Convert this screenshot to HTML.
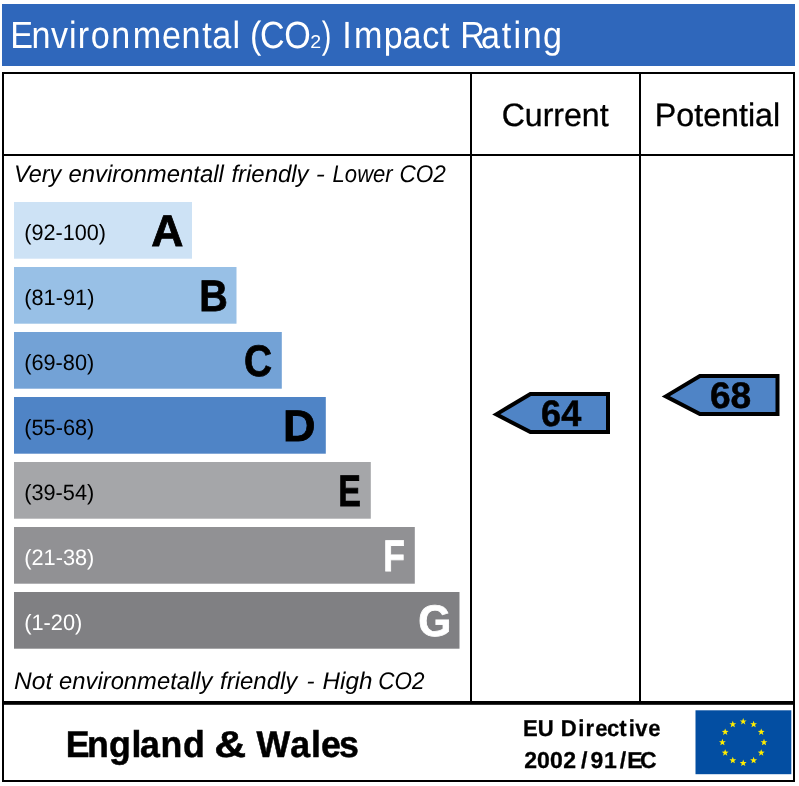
<!DOCTYPE html>
<html lang="en">
<head>
<meta charset="utf-8">
<title>Environmental (CO2) Impact Rating</title>
<style>
html,body{margin:0;padding:0;background:#fff;}
body{width:799px;height:786px;overflow:hidden;}
svg{display:block;}
text{font-family:"Liberation Sans",sans-serif;fill:#000;text-rendering:geometricPrecision;}
.t{fill:#fff;font-size:37.9px;}
.it{font-style:italic;font-size:24px;}
.rg{font-size:22.2px;}
.lt{font-weight:bold;font-size:44.2px;stroke:#000;stroke-width:.8px;}
.hd{font-size:32.4px;stroke:#000;stroke-width:.35px;}
.num{font-weight:bold;font-size:36.8px;stroke:#000;stroke-width:.5px;}
.b36{font-weight:bold;font-size:37.2px;stroke:#000;stroke-width:.5px;}
.b22{font-weight:bold;font-size:23px;stroke:#000;stroke-width:.3px;}
</style>
</head>
<body>
<svg width="799" height="786" viewBox="0 0 799 786">
<rect x="0" y="0" width="799" height="786" fill="#fff"/>
<rect x="2" y="4" width="793" height="62" fill="#2f67bb"/>
<g fill="#000" shape-rendering="crispEdges">
<rect x="2" y="72" width="793" height="2"/>
<rect x="2" y="72" width="2" height="710"/>
<rect x="793" y="72" width="2" height="710"/>
<rect x="2" y="780" width="793" height="2"/>
<rect x="2" y="154" width="793" height="2"/>
<rect x="470" y="72" width="2" height="631"/>
<rect x="639" y="72" width="2" height="631"/>
</g>
<rect x="2" y="701" width="793" height="3.8" fill="#000"/>
<rect x="14" y="202" width="178.00" height="56.7" fill="#cde2f5"/>
<rect x="14" y="267" width="222.50" height="56.7" fill="#98c0e6"/>
<rect x="14" y="332" width="267.80" height="56.7" fill="#73a2d6"/>
<rect x="14" y="397" width="311.80" height="56.7" fill="#4f84c6"/>
<rect x="14" y="462" width="356.80" height="56.7" fill="#a5a6a9"/>
<rect x="14" y="527" width="400.80" height="56.7" fill="#919194"/>
<rect x="14" y="592" width="445.50" height="56.7" fill="#808083"/>
<polygon points="496.3,414.4 530.4,394 608,394 608,432 530.4,432" fill="#4f84c6" stroke="#000" stroke-width="4" stroke-linejoin="miter"/>
<polygon transform="translate(169.5,-18)" points="496.3,414.4 530.4,394 608,394 608,432 530.4,432" fill="#4f84c6" stroke="#000" stroke-width="4" stroke-linejoin="miter"/>
<rect x="695.5" y="710.3" width="95.8" height="63.9" fill="#034ea2"/>
<g fill="#ffed00">
<polygon points="743.20,718.00 744.08,720.39 746.62,720.49 744.63,722.06 745.32,724.51 743.20,723.10 741.08,724.51 741.77,722.06 739.78,720.49 742.32,720.39"/>
<polygon points="753.60,720.79 754.48,723.17 757.02,723.27 755.03,724.85 755.72,727.30 753.60,725.89 751.48,727.30 752.17,724.85 750.18,723.27 752.72,723.17"/>
<polygon points="761.21,728.40 762.10,730.79 764.64,730.89 762.64,732.46 763.33,734.91 761.21,733.50 759.10,734.91 759.79,732.46 757.79,730.89 760.33,730.79"/>
<polygon points="764.00,738.80 764.88,741.19 767.42,741.29 765.43,742.86 766.12,745.31 764.00,743.90 761.88,745.31 762.57,742.86 760.58,741.29 763.12,741.19"/>
<polygon points="761.21,749.20 762.10,751.59 764.64,751.69 762.64,753.26 763.33,755.71 761.21,754.30 759.10,755.71 759.79,753.26 757.79,751.69 760.33,751.59"/>
<polygon points="753.60,756.81 754.48,759.20 757.02,759.30 755.03,760.88 755.72,763.33 753.60,761.91 751.48,763.33 752.17,760.88 750.18,759.30 752.72,759.20"/>
<polygon points="743.20,759.60 744.08,761.99 746.62,762.09 744.63,763.66 745.32,766.11 743.20,764.70 741.08,766.11 741.77,763.66 739.78,762.09 742.32,761.99"/>
<polygon points="732.80,756.81 733.68,759.20 736.22,759.30 734.23,760.88 734.92,763.33 732.80,761.91 730.68,763.33 731.37,760.88 729.38,759.30 731.92,759.20"/>
<polygon points="725.19,749.20 726.07,751.59 728.61,751.69 726.61,753.26 727.30,755.71 725.19,754.30 723.07,755.71 723.76,753.26 721.76,751.69 724.30,751.59"/>
<polygon points="722.40,738.80 723.28,741.19 725.82,741.29 723.83,742.86 724.52,745.31 722.40,743.90 720.28,745.31 720.97,742.86 718.98,741.29 721.52,741.19"/>
<polygon points="725.19,728.40 726.07,730.79 728.61,730.89 726.61,732.46 727.30,734.91 725.19,733.50 723.07,734.91 723.76,732.46 721.76,730.89 724.30,730.79"/>
<polygon points="732.80,720.79 733.68,723.17 736.22,723.27 734.23,724.85 734.92,727.30 732.80,725.89 730.68,727.30 731.37,724.85 729.38,723.27 731.92,723.17"/>
</g>
<text y="47.70" transform="scale(0.9,1)"><tspan class="t" x="11.34 34.99 56.64 76.58 86.52 100.79 123.54 147.43 180.05 201.77 224.70 235.82 258.45">Environmental</tspan> <tspan class="t" x="277.90 289.02 315.77">(CO</tspan><tspan class="t" x="344.69" textLength="12.11" lengthAdjust="spacingAndGlyphs" style="font-size:18.5px;">2</tspan><tspan class="t" x="357.62" textLength="10.72" lengthAdjust="spacingAndGlyphs">)</tspan> <tspan class="t" x="380.29 393.26 426.37 447.10 469.05 489.03">Impact</tspan> <tspan class="t" x="511.25 534.43 557.53 570.58 580.77 603.36">Rating</tspan></text>
<text y="125.60"><tspan class="hd" x="501.72" textLength="106.85" lengthAdjust="spacingAndGlyphs">Current</tspan></text>
<text y="125.60"><tspan class="hd" x="654.82" textLength="125.28" lengthAdjust="spacingAndGlyphs">Potential</tspan></text>
<text y="181.80"><tspan class="it" x="14.01" textLength="47.23" lengthAdjust="spacingAndGlyphs">Very</tspan> <tspan class="it" x="68.50" textLength="155.30" lengthAdjust="spacingAndGlyphs">environmentall</tspan> <tspan class="it" x="231.40" textLength="77.20" lengthAdjust="spacingAndGlyphs">friendly</tspan> <tspan class="it" x="315.80" textLength="9.12" lengthAdjust="spacingAndGlyphs">-</tspan> <tspan class="it" x="332.60" textLength="60.10" lengthAdjust="spacingAndGlyphs">Lower</tspan> <tspan class="it" x="399.48" textLength="46.36" lengthAdjust="spacingAndGlyphs">CO2</tspan></text>
<text y="688.60"><tspan class="it" x="14.10" textLength="38.20" lengthAdjust="spacingAndGlyphs">Not</tspan> <tspan class="it" x="59.10" textLength="153.33" lengthAdjust="spacingAndGlyphs">environmetally</tspan> <tspan class="it" x="220.10" textLength="77.14" lengthAdjust="spacingAndGlyphs">friendly</tspan> <tspan class="it" x="306.48" textLength="8.04" lengthAdjust="spacingAndGlyphs">-</tspan> <tspan class="it" x="322.60" textLength="49.80" lengthAdjust="spacingAndGlyphs">High</tspan> <tspan class="it" x="378.34" textLength="46.18" lengthAdjust="spacingAndGlyphs">CO2</tspan></text>
<text y="239.70"><tspan class="rg" x="24.21" textLength="81.86" lengthAdjust="spacingAndGlyphs">(92-100)</tspan></text>
<text y="304.70"><tspan class="rg" x="24.21" textLength="70.23" lengthAdjust="spacingAndGlyphs">(81-91)</tspan></text>
<text y="369.70"><tspan class="rg" x="24.21" textLength="70.05" lengthAdjust="spacingAndGlyphs">(69-80)</tspan></text>
<text y="434.70"><tspan class="rg" x="24.21" textLength="70.14" lengthAdjust="spacingAndGlyphs">(55-68)</tspan></text>
<text y="499.70"><tspan class="rg" x="24.21" textLength="70.05" lengthAdjust="spacingAndGlyphs">(39-54)</tspan></text>
<text y="564.70"><tspan class="rg" x="24.21" textLength="70.14" lengthAdjust="spacingAndGlyphs" style="fill:#fff;">(21-38)</tspan></text>
<text y="629.70"><tspan class="rg" x="24.21" textLength="58.10" lengthAdjust="spacingAndGlyphs" style="fill:#fff;">(1-20)</tspan></text>
<text y="246.10"><tspan class="lt" x="151.30" textLength="32.18" lengthAdjust="spacingAndGlyphs">A</tspan></text>
<text y="311.10"><tspan class="lt" x="199.22" textLength="28.55" lengthAdjust="spacingAndGlyphs">B</tspan></text>
<text y="376.10"><tspan class="lt" x="244.10" textLength="28.00" lengthAdjust="spacingAndGlyphs">C</tspan></text>
<text y="441.10"><tspan class="lt" x="283.09" textLength="32.53" lengthAdjust="spacingAndGlyphs">D</tspan></text>
<text y="506.10"><tspan class="lt" x="338.20" textLength="22.65" lengthAdjust="spacingAndGlyphs">E</tspan></text>
<text y="571.10"><tspan class="lt" x="383.20" textLength="21.68" lengthAdjust="spacingAndGlyphs" style="fill:#fff;stroke:#fff;">F</tspan></text>
<text y="636.10"><tspan class="lt" x="418.15" textLength="33.02" lengthAdjust="spacingAndGlyphs" style="fill:#fff;stroke:#fff;">G</tspan></text>
<text y="425.80"><tspan class="num" x="541.10" textLength="40.12" lengthAdjust="spacingAndGlyphs">64</tspan></text>
<text y="407.80"><tspan class="num" x="709.96" textLength="41.32" lengthAdjust="spacingAndGlyphs">68</tspan></text>
<text y="756.90" transform="scale(0.96,1)"><tspan class="b36" x="68.43 90.65 113.60 136.88 145.76 167.21 190.66">England</tspan> <tspan class="b36" x="223.27" textLength="33.32" lengthAdjust="spacingAndGlyphs">&amp;</tspan> <tspan class="b36" x="267.24 302.27 323.91 334.36 353.05">Wales</tspan></text>
<text y="736.00" transform="scale(0.96,1)"><tspan class="b22" x="544.87 560.20">EU</tspan> <tspan class="b22" x="584.12 602.28 609.94 619.95 632.29 645.13 654.89 661.84 675.32">Directive</tspan></text>
<text y="768.00"><tspan class="b22" x="524.17 537.07 550.07 563.27 581.05 590.38 603.95 619.80 627.26 640.04">2002/91/EC</tspan></text>
</svg>
</body>
</html>
